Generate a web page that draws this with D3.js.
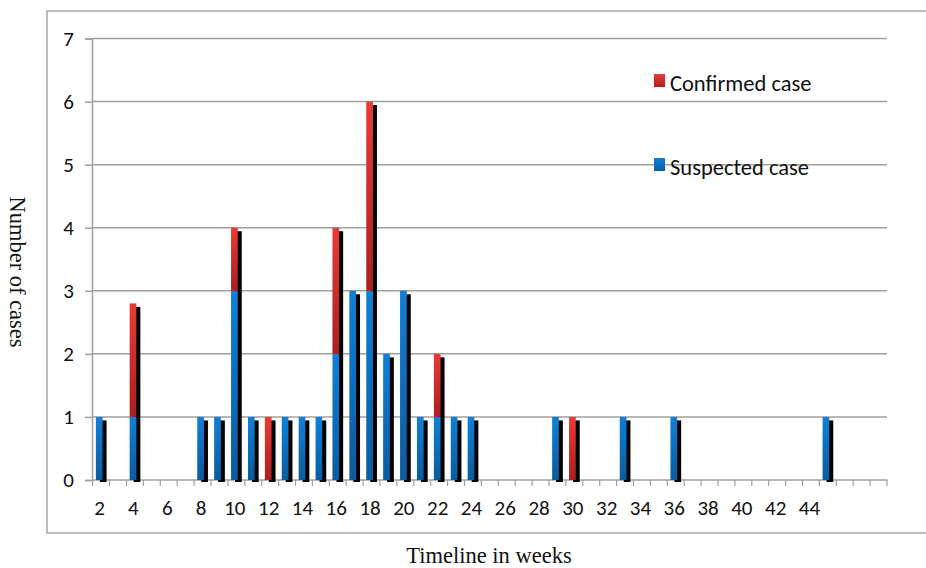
<!DOCTYPE html>
<html><head><meta charset="utf-8">
<script src="https://cdn.jsdelivr.net/npm/d3@7"></script>
<style>html,body{margin:0;padding:0;background:#fff;}svg{display:block;}</style>
</head><body>
<script>
const weeks = [2,3,4,5,6,7,8,9,10,11,12,13,14,15,16,17,18,19,20,21,22,23,24,25,26,27,28,29,30,31,32,33,34,35,36,37,38,39,40,41,42,43,44,45,46,47,48];
const suspected = [1,0,1,0,0,0,1,1,3,1,0,1,1,1,2,3,3,2,3,1,1,1,1,0,0,0,0,1,0,0,0,1,0,0,1,0,0,0,0,0,0,0,0,1,0,0,0];
const confirmed = [0,0,1.8,0,0,0,0,0,1,0,1,0,0,0,2,0,3,0,0,0,1,0,0,0,0,0,0,0,1,0,0,0,0,0,0,0,0,0,0,0,0,0,0,0,0,0,0];
const tickLabels = ["2","4","6","8","10","12","14","16","18","20","22","24","26","28","30","32","34","36","38","40","42","44"];
const yTicks = [0,1,2,3,4,5,6,7];
const seriesNames = ["Confirmed case","Suspected case"];

const W = 926, H = 568;
const svg = d3.select("body").append("svg").attr("width", W).attr("height", H);
const defs = svg.append("defs");
function grad(id, c1, c2){
  const g = defs.append("linearGradient").attr("id", id).attr("x1",0).attr("y1",0).attr("x2",0).attr("y2",1);
  g.append("stop").attr("offset","0%").attr("stop-color",c1);
  g.append("stop").attr("offset","100%").attr("stop-color",c2);
}
grad("gBlue", "#0f80d8", "#0a5c9e");
grad("gRed", "#ec3a36", "#a82020");

const digitFont = "Carlito, 'Liberation Sans', Arial, sans-serif";
const serif = "'Liberation Serif', 'Times New Roman', serif";

// outer frame
svg.append("rect").attr("x",47).attr("y",11).attr("width",905).attr("height",522)
  .attr("fill","none").attr("stroke","#a6a6a6").attr("stroke-width",1.5);

const x = d3.scaleBand().domain(weeks).range([92.7, 887]).padding(0);
const y = d3.scaleLinear().domain([0,7]).range([480, 38.5]);

// gridlines
svg.append("g").selectAll("line").data(yTicks.filter(d=>d>0)).join("line")
  .attr("x1", 92).attr("x2", 887).attr("y1", d=>y(d)).attr("y2", d=>y(d))
  .attr("stroke","#a0a0a0").attr("stroke-width",1.5);

// y axis
const yAxis = svg.append("g").attr("transform","translate(92,0)")
  .call(d3.axisLeft(y).tickValues(yTicks).tickSize(7).tickPadding(11).tickFormat(d3.format("d")));
yAxis.select(".domain").attr("stroke","#a0a0a0").attr("stroke-width",1.5);
yAxis.selectAll(".tick line").attr("stroke","#a0a0a0").attr("stroke-width",1.5);
yAxis.selectAll("text").attr("font-family",digitFont).attr("font-size",21).attr("fill","#111");

// x axis baseline + tick marks at category boundaries
svg.append("line").attr("x1",92).attr("x2",887.5).attr("y1",y(0)).attr("y2",y(0))
  .attr("stroke","#a0a0a0").attr("stroke-width",1.5);
svg.append("g").selectAll("line").data(weeks.concat([null])).join("line")
  .attr("x1",(d,i)=> i < weeks.length ? x(d) : x(weeks[weeks.length-1]) + x.bandwidth())
  .attr("x2",(d,i)=> i < weeks.length ? x(d) : x(weeks[weeks.length-1]) + x.bandwidth())
  .attr("y1",y(0)).attr("y2",y(0)+6)
  .attr("stroke","#a0a0a0").attr("stroke-width",1.2);

const labelWeeks = tickLabels.map(Number);
const xAxis = svg.append("g").attr("transform",`translate(0,${y(0)})`)
  .call(d3.axisBottom(x).tickValues(labelWeeks).tickSize(0).tickPadding(20).tickFormat((d,i)=>tickLabels[i]));
xAxis.select(".domain").remove();
xAxis.selectAll("text").attr("font-family",digitFont).attr("font-size",21).attr("fill","#111")
  .attr("dx", -1.5);

// bars
const rows = weeks.map((w,i)=>({w, s:suspected[i], c:confirmed[i]})).filter(d=>d.s+d.c>0);
const bw = 6.7;
const bx = d => x(d.w) + x.bandwidth()/2 - 5.3;
const bars = svg.append("g");
// shadow
bars.selectAll("rect.sh").data(rows).join("rect").attr("class","sh")
  .attr("x", d=>bx(d)+4).attr("width", bw)
  .attr("y", d=>y(d.s+d.c)+3.5).attr("height", d=>y(0)+2 - (y(d.s+d.c)+3.5))
  .attr("fill","#000");
bars.selectAll("rect.bs").data(rows.filter(d=>d.s>0)).join("rect").attr("class","bs")
  .attr("x", bx).attr("width", bw)
  .attr("y", d=>y(d.s)).attr("height", d=>y(0)-y(d.s))
  .attr("fill","url(#gBlue)");
bars.selectAll("rect.bc").data(rows.filter(d=>d.c>0)).join("rect").attr("class","bc")
  .attr("x", bx).attr("width", bw)
  .attr("y", d=>y(d.s+d.c)).attr("height", d=>y(d.s)-y(d.s+d.c))
  .attr("fill","url(#gRed)");

// legend
const legend = svg.append("g");
const legItems = [{name:seriesNames[0], fill:"url(#gRed)", yy:91},{name:seriesNames[1], fill:"url(#gBlue)", yy:175}];
legend.selectAll("rect").data(legItems).join("rect")
  .attr("x",654).attr("y",d=>d.yy-17).attr("width",11).attr("height",13).attr("fill",d=>d.fill);
legend.selectAll("text").data(legItems).join("text")
  .attr("x",670).attr("y",d=>d.yy).text(d=>d.name)
  .attr("font-family",digitFont).attr("font-size",22.5).attr("fill","#111");

// axis titles
svg.append("text").attr("transform","translate(10,272) rotate(90)")
  .attr("text-anchor","middle").attr("font-family",serif).attr("font-size",22.5).attr("fill","#111")
  .text("Number of cases");
svg.append("text").attr("x",489).attr("y",563).attr("text-anchor","middle")
  .attr("font-family",serif).attr("font-size",22.5).attr("fill","#111").text("Timeline in weeks");
</script>
</body></html>
